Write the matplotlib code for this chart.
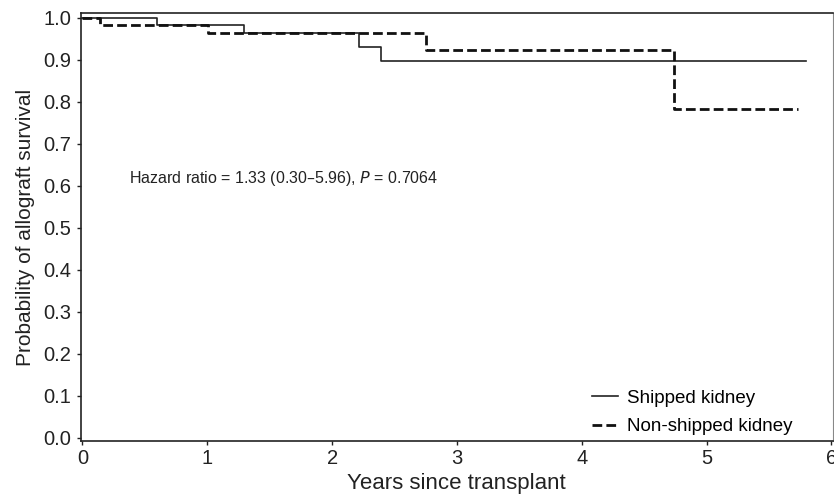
import matplotlib
matplotlib.use("Agg")
import matplotlib.pyplot as plt

plt.rcParams['font.family'] = ['Liberation Sans', 'DejaVu Sans']

# step curves (time in years, survival probability)
shipped_t = [0.0, 0.595, 1.294, 2.216, 2.39, 5.80]
shipped_s = [1.0, 0.982, 0.963, 0.930, 0.897, 0.897]
nonshipped_t = [0.0, 0.14, 1.003, 2.75, 4.74, 5.73]
nonshipped_s = [1.0, 0.982, 0.964, 0.924, 0.782, 0.782]

x_ticks = [0, 1, 2, 3, 4, 5, 6]
y_ticks = [0.0, 0.1, 0.2, 0.3, 0.4, 0.5, 0.6, 0.7, 0.8, 0.9, 1.0]

fig = plt.figure(figsize=(8.34, 5.0), dpi=100)
ax = fig.add_axes([0.0971, 0.118, 0.9013, 0.856])

ax.step(shipped_t, shipped_s, where='post', color='#222222', lw=1.2,
        label='Shipped kidney')
ax.step(nonshipped_t, nonshipped_s, where='post', color='#111111', lw=2.0,
        linestyle=(0, (3.5, 1.5)), label='Non-shipped kidney')

ax.set_xlim(-0.012, 6.01)
ax.set_ylim(-0.008, 1.011)
ax.set_xticks(x_ticks)
ax.set_xticklabels([str(t) for t in x_ticks])
ax.set_yticks(y_ticks)
ax.set_yticklabels(['%.1f' % v for v in y_ticks])
ax.tick_params(labelsize=14.5, length=3, width=1, color='#222222',
               labelcolor='#222222')
ax.tick_params(axis='x', pad=3)
ax.tick_params(axis='y', pad=4)
ax.set_xlabel('Years since transplant', fontsize=16, color='#222222',
              labelpad=3)
ax.set_ylabel('Probability of allograft survival', fontsize=15,
              color='#222222', labelpad=6)
for side in ['left', 'bottom', 'top']:
    ax.spines[side].set_color('#222222')
    ax.spines[side].set_linewidth(1.2)
ax.spines['right'].set_color('#888888')

ax.text(0.37, 0.616, 'Hazard ratio = 1.33 (0.30\u20135.96), $\\it{P}$ = 0.7064',
        fontsize=11.5, color='#222222', va='center')

ax.legend(loc='lower right', frameon=False, fontsize=13.5, handlelength=1.4,
          handletextpad=0.5, labelspacing=0.6, borderaxespad=0.0,
          bbox_to_anchor=(0.957, -0.004))

fig.savefig('out.png', dpi=100)
